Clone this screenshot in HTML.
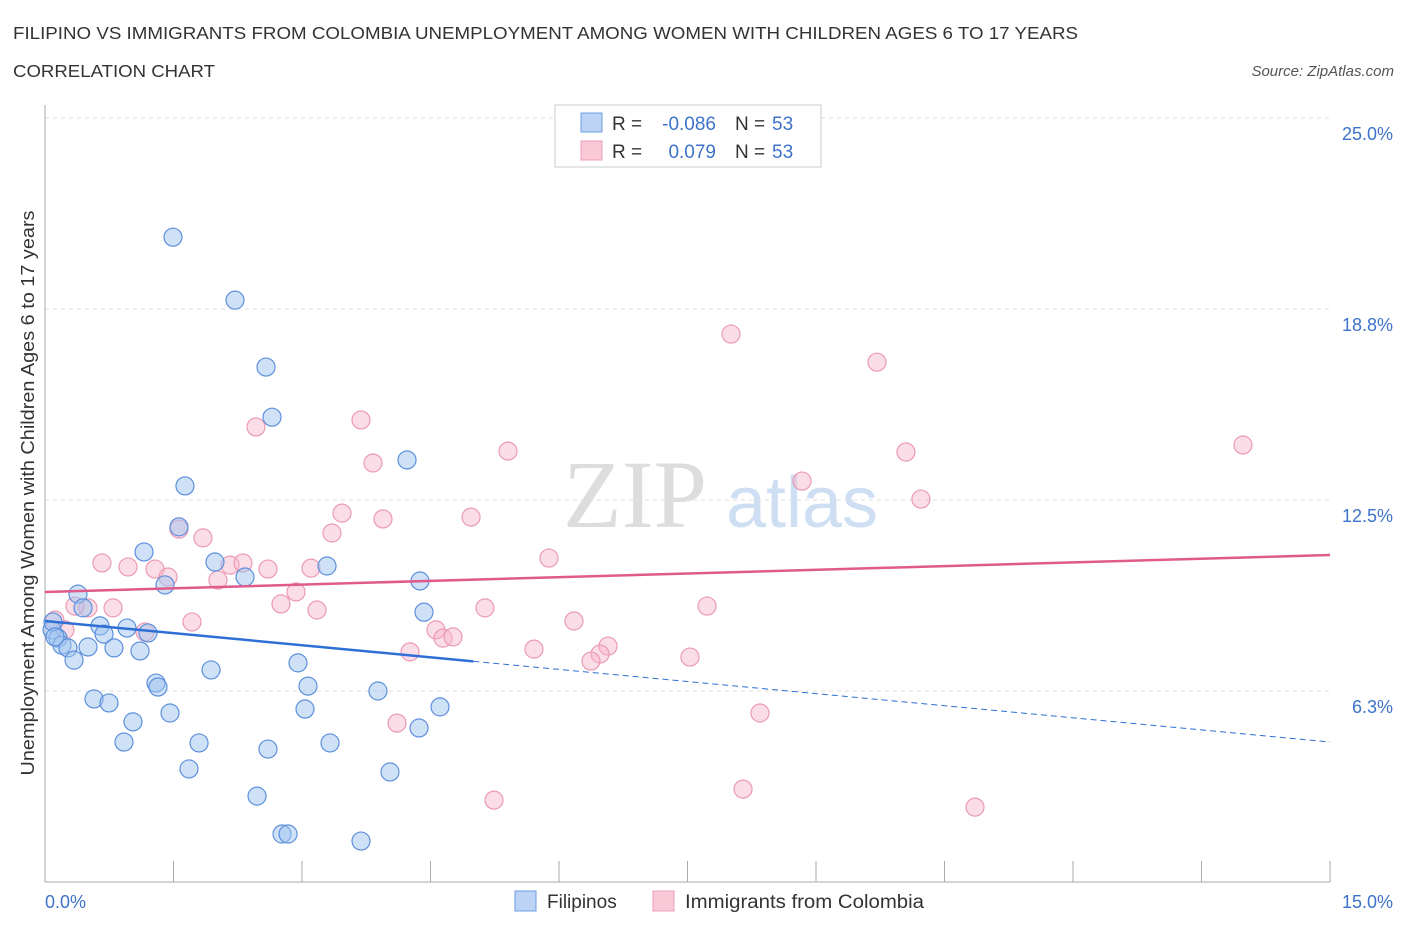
<!DOCTYPE html>
<html><head><meta charset="utf-8"><style>
body{margin:0;background:#fff;font-family:"Liberation Sans",sans-serif;}
svg{display:block}
</style></head><body>
<svg id="chart" width="1406" height="930">
<text x="13" y="39" font-size="17.5" fill="#333" textLength="1065" lengthAdjust="spacingAndGlyphs">FILIPINO VS IMMIGRANTS FROM COLOMBIA UNEMPLOYMENT AMONG WOMEN WITH CHILDREN AGES 6 TO 17 YEARS</text>
<text x="13" y="77" font-size="17.5" fill="#333" textLength="202" lengthAdjust="spacingAndGlyphs">CORRELATION CHART</text>
<text x="1394" y="76" font-size="15" fill="#555" font-style="italic" text-anchor="end">Source: ZipAtlas.com</text>
<text x="635" y="527" font-size="96" fill="#ddd" font-family="Liberation Serif,serif" text-anchor="middle">ZIP</text>
<text x="802" y="527" font-size="72" fill="#cfdff3" text-anchor="middle">atlas</text>
<g id="grid"></g><g id="axes"></g><g id="marks"></g>
<text transform="translate(34,493) rotate(-90)" font-size="18" fill="#333" text-anchor="middle" textLength="565" lengthAdjust="spacingAndGlyphs">Unemployment Among Women with Children Ages 6 to 17 years</text>
<text x="45" y="908" font-size="18" fill="#3d73c9">0.0%</text>
<text x="1393" y="908" font-size="18" fill="#3d73c9" text-anchor="end">15.0%</text>
<g>
<rect x="555" y="105" width="266" height="62" fill="#fff" stroke="#ccc"/>
<rect x="581" y="113" width="21" height="19" fill="#bcd3f5" stroke="#6e9de0"/>
<rect x="581" y="141" width="21" height="19" fill="#f9c9d8" stroke="#eb9fb7"/>
<text x="612" y="130" font-size="19" fill="#333">R =</text>
<text x="716" y="130" font-size="19" fill="#3d73c9" text-anchor="end">-0.086</text>
<text x="735" y="130" font-size="19" fill="#333">N =</text>
<text x="772" y="130" font-size="19" fill="#3d73c9">53</text>
<text x="612" y="158" font-size="19" fill="#333">R =</text>
<text x="716" y="158" font-size="19" fill="#3d73c9" text-anchor="end">0.079</text>
<text x="735" y="158" font-size="19" fill="#333">N =</text>
<text x="772" y="158" font-size="19" fill="#3d73c9">53</text>
</g>
<g>
<rect x="515" y="891" width="21" height="20" fill="#bcd3f5" stroke="#6e9de0"/>
<text x="547" y="908" font-size="19" fill="#333">Filipinos</text>
<rect x="653" y="891" width="21" height="20" fill="#f9c9d8" stroke="#eb9fb7"/>
<text x="685" y="908" font-size="19" fill="#333" textLength="239" lengthAdjust="spacingAndGlyphs">Immigrants from Colombia</text>
</g>
</svg>
<script>
const yTicks=[6.25,12.5,18.75,25];
const yTickLabels=["6.3%","12.5%","18.8%","25.0%"];
const xTicks=[0,1.5,3,4.5,6,7.5,9,10.5,12,13.5,15];
const filX=[1.494,2.218,2.580,2.650,4.226,1.634,1.564,1.156,1.984,3.292,2.335,1.401,4.377,0.385,0.444,4.424,0.642,0.957,1.202,0.689,0.082,0.152,0.198,0.268,0.502,0.805,1.109,0.339,2.953,1.938,1.296,1.319,3.070,3.887,0.572,0.747,3.035,1.459,4.611,1.027,4.366,0.922,1.798,2.603,3.327,1.681,4.027,2.475,2.767,2.837,3.689,0.093,0.117];
const filY=[21.10,19.04,16.85,15.21,13.81,12.96,11.62,10.80,10.47,10.34,9.98,9.72,9.85,9.42,8.97,8.83,8.38,8.31,8.15,8.11,8.25,7.98,7.75,7.66,7.69,7.66,7.56,7.26,7.17,6.94,6.51,6.38,6.41,6.25,5.99,5.86,5.66,5.53,5.73,5.24,5.04,4.58,4.55,4.35,4.55,3.70,3.60,2.81,1.57,1.57,1.34,8.51,8.02];
const colX=[8.008,9.712,3.689,2.463,13.984,5.405,10.050,3.829,8.837,10.225,3.467,3.945,4.973,1.564,3.350,1.844,5.883,0.665,0.969,2.160,2.311,2.603,3.105,1.284,1.436,2.019,2.930,0.502,0.794,0.350,2.755,3.175,5.136,7.728,1.716,6.175,4.564,4.646,4.763,1.167,0.233,0.117,6.572,6.479,5.708,4.261,6.373,7.529,8.346,4.109,5.241,8.148,10.856];
const colY=[17.93,17.01,15.12,14.89,14.30,14.10,14.07,13.71,13.12,12.53,12.07,11.88,11.94,11.55,11.42,11.26,10.60,10.44,10.31,10.37,10.44,10.24,10.27,10.24,9.98,9.88,9.49,8.97,8.97,9.03,9.10,8.90,8.97,9.03,8.51,8.54,8.25,7.98,8.02,8.18,8.25,8.57,7.72,7.46,7.62,7.53,7.23,7.36,5.53,5.20,2.68,3.04,2.45];
const filTrend=[8.54,-0.264]; // intercept, slope
const colTrend=[9.49,0.0807];
const sx=v=>45+v*1285/15, sy=v=>882-v*764/25;
const NS="http://www.w3.org/2000/svg";
function mk(p,t,a){const e=document.createElementNS(NS,t);for(const k in a)e.setAttribute(k,a[k]);p.appendChild(e);return e;}
const grid=document.getElementById('grid'),axes=document.getElementById('axes'),marks=document.getElementById('marks');
yTicks.forEach((v,i)=>{
 const l=mk(grid,'line',{x1:45,x2:1330,y1:sy(v),y2:sy(v),stroke:'#ddd','stroke-dasharray':'4,4'});
 
 
 const t=mk(grid,'text',{x:1393,y:sy(v)+22,'font-size':18,fill:'#3d73c9','text-anchor':'end'});t.textContent=yTickLabels[i];
 
 
});
let a=mk(axes,'line',{x1:45,x2:45,y1:105,y2:882,stroke:'#aaa'});


a=mk(axes,'line',{x1:45,x2:1330,y1:882,y2:882,stroke:'#aaa'});


xTicks.forEach(v=>{const t=mk(axes,'line',{x1:sx(v),x2:sx(v),y1:861,y2:882,stroke:'#aaa'});
 
 });
function pts(X,Y,fill,stroke,name){X.forEach((x,i)=>{const c=mk(marks,'circle',{cx:sx(x),cy:sy(Y[i]),r:9,fill:fill,stroke:stroke,'stroke-width':1.2});
 
 });}
pts(colX,colY,'rgba(246,180,202,0.45)','#eb9ab4','colombia-point');
pts(filX,filY,'rgba(160,195,240,0.5)','#5d90dc','filipino-point');
let l=mk(marks,'line',{x1:sx(0),y1:sy(colTrend[0]),x2:sx(15),y2:sy(colTrend[0]+colTrend[1]*15),stroke:'#e05a8a','stroke-width':2.5});


l=mk(marks,'line',{x1:sx(0),y1:sy(filTrend[0]),x2:sx(5),y2:sy(filTrend[0]+filTrend[1]*5),stroke:'#2e6fd6','stroke-width':2.5});


l=mk(marks,'line',{x1:sx(5),y1:sy(filTrend[0]+filTrend[1]*5),x2:sx(15),y2:sy(filTrend[0]+filTrend[1]*15),stroke:'#2e6fd6','stroke-width':1,'stroke-dasharray':'6,4'});


</script>
</body></html>
